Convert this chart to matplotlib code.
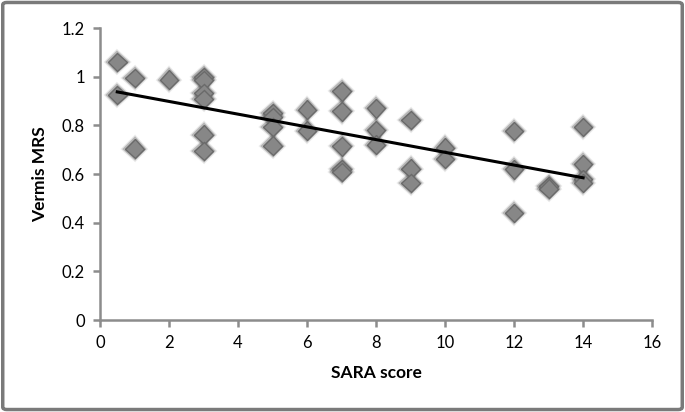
import numpy as np
import matplotlib
matplotlib.use("Agg")
import matplotlib.pyplot as plt
import matplotlib.patheffects as pe
from matplotlib.patches import FancyBboxPatch

plt.rcParams['font.family'] = ['Lato', 'DejaVu Sans']

# SARA score vs vermis MRS
sara = [0.5, 0.5, 1, 1, 2,
        3, 3, 3, 3, 3, 3,
        5, 5, 5, 5, 6, 6,
        7, 7, 7, 7, 7, 8, 8, 8,
        9, 9, 9, 10, 10,
        12, 12, 12, 13, 13,
        14, 14, 14, 14]
mrs = [1.06, 0.925, 0.995, 0.705, 0.988,
       0.998, 0.985, 0.933, 0.908, 0.762, 0.695,
       0.851, 0.834, 0.794, 0.717, 0.865, 0.778,
       0.940, 0.858, 0.714, 0.620, 0.608, 0.870, 0.779, 0.721,
       0.822, 0.622, 0.563, 0.708, 0.662,
       0.777, 0.620, 0.440, 0.551, 0.540,
       0.793, 0.640, 0.580, 0.563]

x_ticks = [0, 2, 4, 6, 8, 10, 12, 14, 16]
y_ticks = [0, 0.2, 0.4, 0.6, 0.8, 1, 1.2]

x = np.array(sara)
y = np.array(mrs)
slope, icept = np.polyfit(x, y, 1)
xfit = np.array([x.min(), x.max()])

fig = plt.figure(figsize=(6.85, 4.12), dpi=100)
ax = fig.add_axes([0.146, 0.223, 0.806, 0.709])

# soft blurred look: two faint dark halos under each diamond
ax.plot(x, y, linestyle='none', marker='D', markersize=9.5,
        markerfacecolor='#878787', markeredgecolor='#6a6a6a', markeredgewidth=1.0,
        path_effects=[pe.Stroke(linewidth=4.5, foreground='#000000', alpha=0.08),
                      pe.Stroke(linewidth=2.8, foreground='#000000', alpha=0.22),
                      pe.Normal()], zorder=3)
ax.plot(xfit, icept + slope * xfit, color='black', linewidth=2.2, zorder=4)

ax.set_xlim(0, 16)
ax.set_ylim(0, 1.2)
ax.set_xticks(x_ticks)
ax.set_yticks(y_ticks)
ax.set_yticklabels(['0', '0.2', '0.4', '0.6', '0.8', '1', '1.2'])

for side in ['top', 'right']:
    ax.spines[side].set_visible(False)
for side in ['left', 'bottom']:
    ax.spines[side].set_color('#8c8c8c')
    ax.spines[side].set_linewidth(1.8)
ax.tick_params(axis='both', direction='out', length=5, width=1.8, color='#8c8c8c',
               labelsize=12, labelcolor='black', pad=6)

ax.set_xlabel('SARA score', fontsize=12.5, fontweight='bold', labelpad=10)
ax.set_ylabel('Vermis MRS', fontsize=12.5, fontweight='bold', labelpad=10)

# chart border
fig.patches.append(FancyBboxPatch((0.004, 0.006), 0.992, 0.988,
                                  boxstyle='round,pad=0,rounding_size=0.006',
                                  transform=fig.transFigure, fill=False,
                                  edgecolor='#7a7a7a', linewidth=2.5))

fig.savefig('out.png', dpi=100)
